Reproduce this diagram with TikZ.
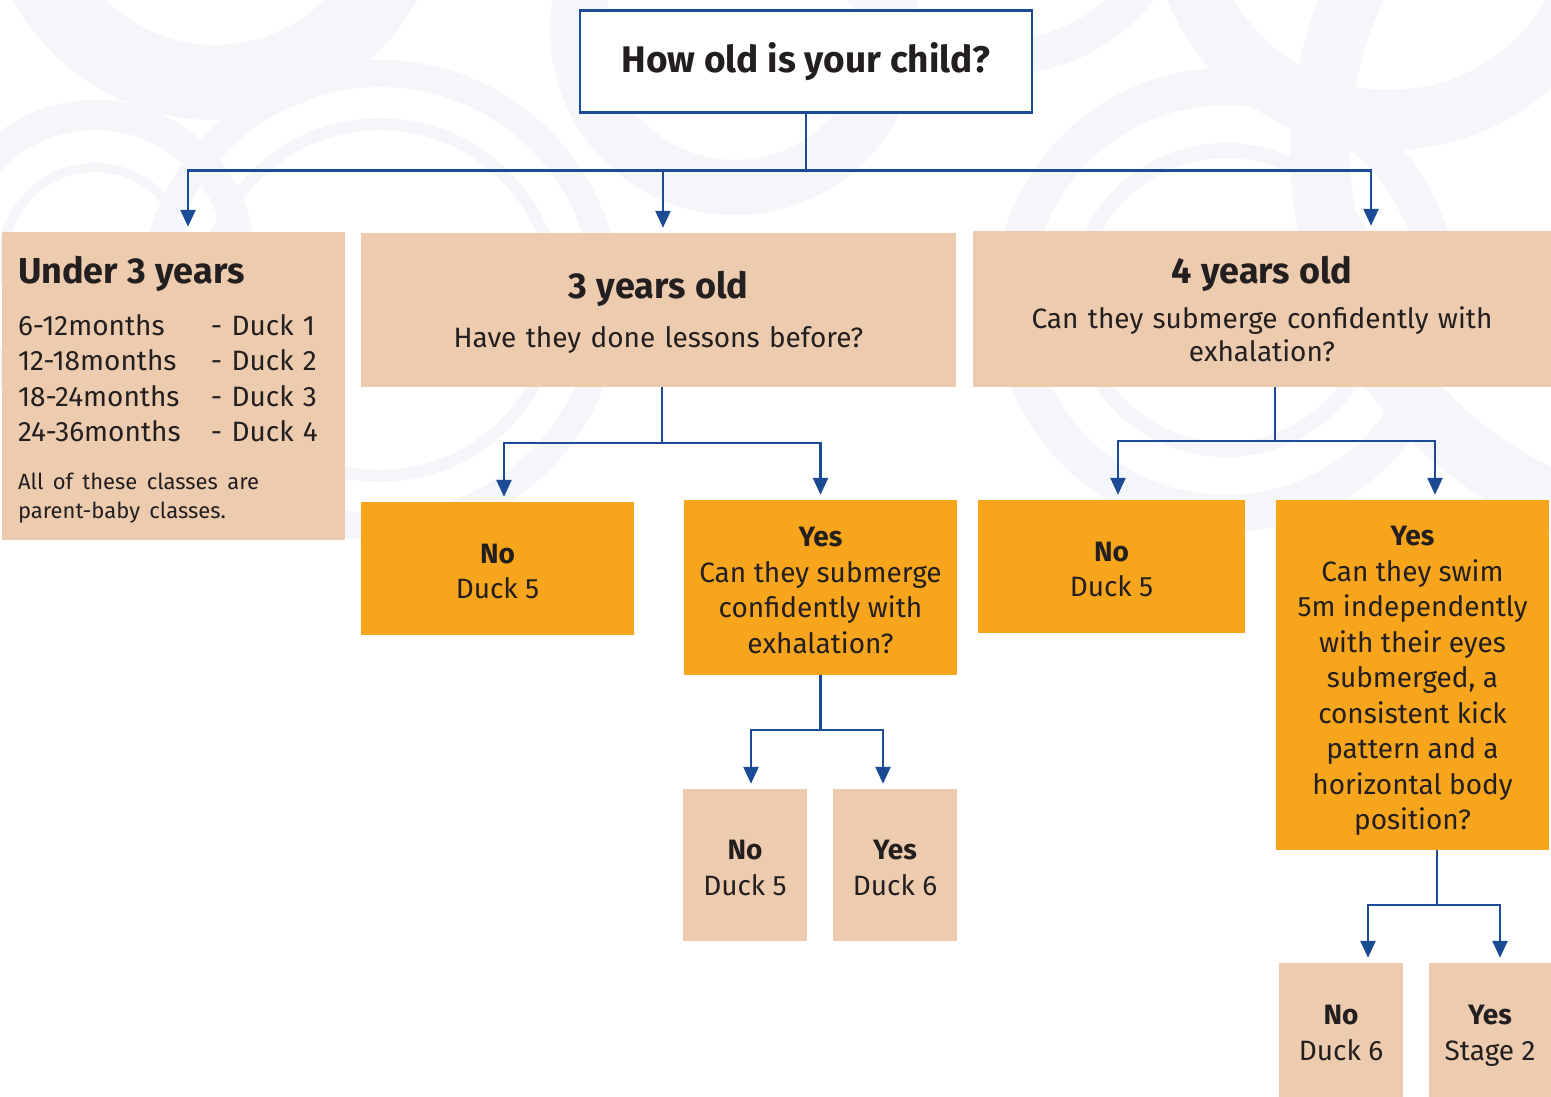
\documentclass[tikz,border=0pt]{standalone}
\usepackage{fontspec}
\setmainfont{Fira Sans}
\usetikzlibrary{arrows.meta,positioning,calc}
\definecolor{navy} {HTML}{1B4B95}
\definecolor{sand} {HTML}{EDCBAE}
\definecolor{amber}{HTML}{F7A51C}
\definecolor{ink}  {HTML}{231F20}
\definecolor{ring} {HTML}{F5F6FA}
\newcommand{\bodyfont}{\fontsize{28}{35.5}\selectfont}
\newcommand{\headfont}{\fontsize{36}{40}\selectfont\bfseries}
\newcommand{\smallfont}{\fontsize{22}{29}\selectfont}
% answer text: bold first word, then the rest, with fixed top and bottom struts
\newcommand{\answer}[2]{\rule{0pt}{33pt}\textbf{#1}\\#2\rule[-8pt]{0pt}{8pt}}
\begin{document}
\begin{tikzpicture}[x=1pt,y=-1pt,
    conn/.style={navy, line width=2.5pt},
    arr/.style={conn, -{Triangle[length=17pt,width=15pt]}, shorten >=5pt},
    sandbox/.style={fill=sand, inner sep=0pt, align=center, text=ink, font=\bodyfont},
    amberbox/.style={sandbox, fill=amber}]
  \useasboundingbox (0,0) rectangle (1551,1097);
  \fill[white] (0,0) rectangle (1551,1097);
  % faint rings in the background
  \fill[ring, even odd rule] (215,-110) circle[radius=230pt] circle[radius=155pt];
  \fill[ring, even odd rule] (95,260) circle[radius=160pt] circle[radius=130pt];
  \fill[ring, even odd rule] (95,260) circle[radius=97pt] circle[radius=88pt];
  \fill[ring, even odd rule] (380,300) circle[radius=240pt] circle[radius=213pt];
  \fill[ring, even odd rule] (380,300) circle[radius=182pt] circle[radius=170pt];
  \fill[ring, even odd rule] (735,30) circle[radius=185pt] circle[radius=130pt];
  \fill[ring, even odd rule] (1000,-120) circle[radius=195pt] circle[radius=160pt];
  \fill[ring, even odd rule] (1390,-90) circle[radius=240pt] circle[radius=180pt];
  \fill[ring, even odd rule] (1226,300) circle[radius=232pt] circle[radius=195pt];
  \fill[ring, even odd rule] (1226,300) circle[radius=157pt] circle[radius=142pt];
  \fill[ring, even odd rule] (1700,150) circle[radius=410pt] circle[radius=350pt];

  % question and age groups
  \node[draw=navy, line width=2.5pt, fill=white, text=ink, minimum width=452pt, minimum height=102pt,
        text height=31pt, text depth=8pt, inner ysep=0pt,
        font=\fontsize{37}{40}\selectfont\bfseries] (root) at (806,61.5) {How old is your child?};
  \node[sandbox, align=left, minimum width=343pt, minimum height=308pt, text width=311pt] (under) at (173.5,386) {%
    {\headfont\rule{0pt}{35pt}Under 3 years\par}\vspace{16.5pt}
    \makebox[193pt][l]{6-12months}- Duck 1\\
    \makebox[193pt][l]{12-18months}- Duck 2\\
    \makebox[193pt][l]{18-24months}- Duck 3\\
    \makebox[193pt][l]{24-36months}- Duck 4\par\vspace{19pt}
    {\smallfont All of these classes are\\parent-baby classes.\par}};
  \node[sandbox, minimum width=595pt, minimum height=154pt, text width=580pt] (three) at (658.5,310) {%
    {\headfont\rule{0pt}{31pt}3 years old\par}\vspace{13.5pt}
    Have they done lessons before?\par};
  \node[sandbox, minimum width=578pt, minimum height=156pt, text width=560pt] (four) at (1262,309) {%
    {\headfont 4 years old\par}\vspace{12.5pt}
    {\fontsize{28}{33}\selectfont Can they submerge confidently with\\exhalation?\par}};

  % answers for 3 years old
  \node[amberbox, minimum width=273pt, minimum height=133pt] (no3) at (497.5,568.5) {\answer{No}{Duck 5}};
  \node[amberbox, minimum width=273pt, minimum height=175pt] (yes3) at (820.5,587.5)
    {\answer{Yes}{Can they submerge\\confidently with\\exhalation?}};
  \node[sandbox, minimum width=124pt, minimum height=152pt] (no3b) at (745,865) {\answer{No}{Duck 5}};
  \node[sandbox, minimum width=124pt, minimum height=152pt] (yes3b) at (895,865) {\answer{Yes}{Duck 6}};

  % answers for 4 years old
  \node[amberbox, minimum width=267pt, minimum height=133pt] (no4) at (1111.5,566.5) {\answer{No}{Duck 5}};
  \node[amberbox, minimum width=273pt, minimum height=350pt] (yes4) at (1412.5,675)
    {\answer{Yes}{Can they swim\\5m independently\\with their eyes\\submerged, a\\consistent kick\\pattern and a\\horizontal body\\position?}};
  \node[sandbox, minimum width=124pt, minimum height=134pt] (no4b) at (1341,1030) {\answer{No}{Duck 6}};
  \node[sandbox, minimum width=122pt, minimum height=134pt] (yes4b) at (1490,1030) {\answer{Yes}{Stage 2}};

  % connectors
  \draw[conn] (root.south) -- ++(0,57) coordinate (bus);
  \draw[arr] (bus) -| ([xshift=14.5pt]under.north);
  \draw[arr] (bus) -| ([xshift=4.5pt]three.north);
  \draw[arr] (bus) -| ([xshift=109pt]four.north);

  \draw[conn] ([xshift=3.5pt]three.south) -- ++(0,56) coordinate (fork3);
  \draw[arr] (fork3) -| ([xshift=6.5pt]no3.north);
  \draw[arr] (fork3) -| (yes3.north);

  \draw[conn] (yes3.south) -- ++(0,55) coordinate (fork3b);
  \draw[arr] (fork3b) -| ([xshift=6pt]no3b.north);
  \draw[arr] (fork3b) -| ([xshift=-12pt]yes3b.north);

  \draw[conn] ([xshift=13pt]four.south) -- ++(0,54) coordinate (fork4);
  \draw[arr] (fork4) -| ([xshift=6.5pt]no4.north);
  \draw[arr] (fork4) -| ([xshift=22.5pt]yes4.north);

  \draw[conn] ([xshift=24.5pt]yes4.south) -- ++(0,55) coordinate (fork4b);
  \draw[arr] (fork4b) -| ([xshift=27pt]no4b.north);
  \draw[arr] (fork4b) -| ([xshift=10pt]yes4b.north);
\end{tikzpicture}
\end{document}
